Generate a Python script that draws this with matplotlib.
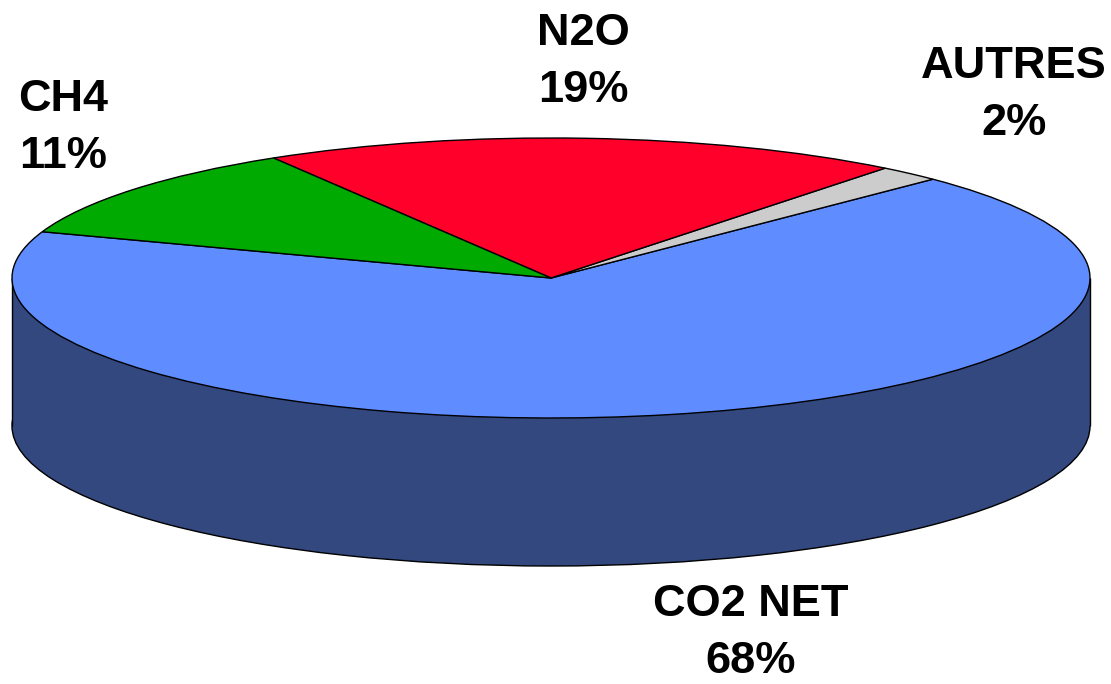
import matplotlib
matplotlib.use("Agg")
import matplotlib.pyplot as plt
from matplotlib.patches import Rectangle

categories = ["CO2 NET", "AUTRES", "N2O", "CH4"]
values = [67.83, 1.89, 19.25, 11.03]
percent_labels = ["68%", "2%", "19%", "11%"]
top_colors = ["#5F8DFF", "#CCCCCC", "#FF002B", "#00AA00"]
side_color = "#32487F"
label_px = [(751, 633), (1014, 95), (583, 62), (63, 128)]

W, H = 1111, 684
CX, CY, RX, RY, DEPTH = 551, 278, 539, 140, 148
START = 160.7

plt.rcParams["font.family"] = ["Liberation Sans", "DejaVu Sans"]
fig = plt.figure(figsize=(W / 100, H / 100), dpi=100, facecolor="white")
ax = fig.add_axes([0, 0, 1, 1])

# side wall: a lower disc plus a band joining it to the top face
d = DEPTH / RY
ax.pie([sum(values)], colors=[side_color], startangle=START, center=(0, -d), radius=1,
       wedgeprops=dict(linewidth=1.0, edgecolor="black"), frame=True)
ax.add_patch(Rectangle((-1, -d), 2, d, facecolor=side_color, edgecolor="none", zorder=1.5))
ax.vlines([-1, 1], -d, 0, colors="black", linewidth=1.0, zorder=1.6)
# top face
wedges, _ = ax.pie(values, colors=top_colors, startangle=START, center=(0, 0), radius=1,
                   wedgeprops=dict(linewidth=1.0, edgecolor="black", zorder=3), frame=True)

ax.set_aspect("auto")
ax.set_xlim((0 - CX) / RX, (W - CX) / RX)
ax.set_ylim((CY - H) / RY, CY / RY)
ax.axis("off")

for name, pct, (px, py) in zip(categories, percent_labels, label_px):
    fig.text(px / W, 1 - py / H, f"{name}\n{pct}", ha="center", va="center",
             fontsize=32.5, fontweight="bold", linespacing=1.5, color="black")

fig.savefig("out.png", dpi=100, facecolor="white")
